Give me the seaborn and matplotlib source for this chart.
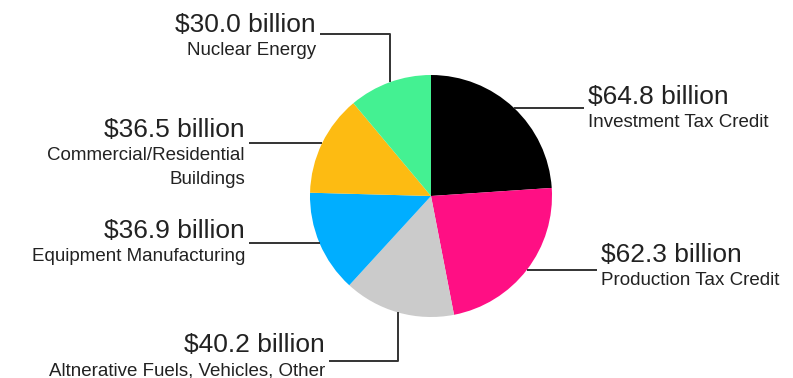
import numpy as np
import matplotlib.pyplot as plt
import seaborn as sns

# IRA clean energy tax credits, billions of dollars
amounts = [64.8, 62.3, 40.2, 36.9, 36.5, 30.0]
categories = ["Investment Tax Credit", "Production Tax Credit",
              "Altnerative Fuels, Vehicles, Other", "Equipment Manufacturing",
              "Commercial/Residential\nBuildings", "Nuclear Energy"]
slice_colors = ["#000000", "#ff0f84", "#cbcbcb", "#00aeff", "#fdbb12", "#44f192"]

# label layout in pixel coords (y from top): text x, main baseline y, line y, alignment, elbow
label_x = [588, 601, 325, 245, 245, 316]
label_y = [104, 262, 352, 238, 137, 32]
line_y = [None, None, 361, None, None, 34]
label_ha = ["left", "left", "right", "right", "right", "right"]

W, H = 793, 378
sns.set_theme(style="white")
plt.rcParams["font.family"] = ["Liberation Sans", "DejaVu Sans"]

fig = plt.figure(figsize=(W / 100, H / 100), dpi=100)
ax = fig.add_axes([0, 0, 1, 1])

cx, cy, r = 431, 196, 121
wedges, _ = ax.pie(amounts, colors=slice_colors, startangle=-90, counterclock=True,
                   center=(cx, cy), radius=r, frame=True,
                   wedgeprops=dict(linewidth=0))

ax.set_xlim(0, W)
ax.set_ylim(H, 0)
ax.set_aspect("equal")
ax.axis("off")

ink = "#222222"
for w, val, name, tx, ty, ly, ha in zip(wedges, amounts, categories,
                                        label_x, label_y, line_y, label_ha):
    mid = np.deg2rad((w.theta1 + w.theta2) / 2)
    ax0, ay0 = cx + r * np.cos(mid), cy + r * np.sin(mid)
    gap = 4 if ha == "left" else -4
    end_x = tx - gap
    if ly is None:
        xs, ys = [ax0, end_x], [ay0, ay0]
    else:
        xs, ys = [ax0, ax0, end_x], [ay0, ly, ly]
    ax.plot(xs, ys, color="#333333", lw=1.4, solid_capstyle="butt")
    ax.text(tx, ty, f"${val:.1f} billion", ha=ha, va="baseline",
            fontsize=19, color=ink)
    ax.text(tx, ty + 10, name, ha=ha, va="top", fontsize=13.5, color=ink,
            linespacing=1.5, multialignment=ha)

fig.savefig("out.png", dpi=100, facecolor="white")
